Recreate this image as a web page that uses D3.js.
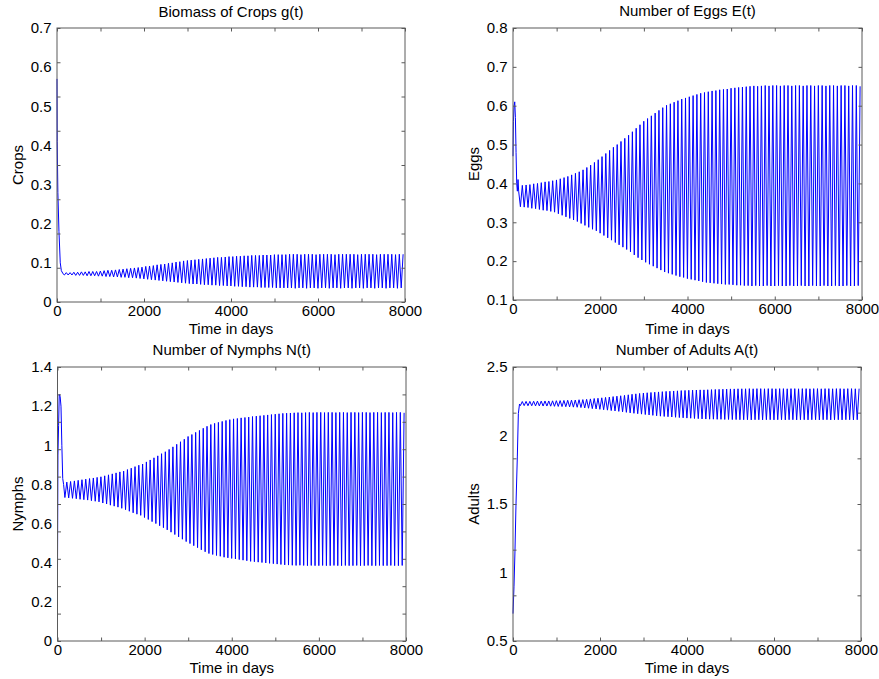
<!DOCTYPE html>
<html>
<head>
<meta charset="utf-8">
<script src="https://cdn.jsdelivr.net/npm/d3@7"></script>
<style>
  body { margin: 0; background: #fff; }
  svg { display: block; font-family: "Liberation Sans", Arial, Helvetica, sans-serif; }
  .tick text { font-size: 15px; fill: #000; }
  .label { font-size: 15px; fill: #000; }
</style>
</head>
<body>
<div id="chart"></div>
<script>
// time axis
const xTickMarks = [0, 1000, 2000, 3000, 4000, 5000, 6000, 7000, 8000];
const xTickLabels = [0, 2000, 4000, 6000, 8000];

// oscillation starts after the transient; one trough + one peak per cycle
const cycleStart = 170;
const cycleDays = 87;

// ---- crops g(t)
const cropTransientDays = [0, 5, 20, 45, 75, 100, 140];
const cropTransient = [0.57, 0.41, 0.28, 0.18, 0.10, 0.08, 0.072];
const cropUpper = [
  .075,.075,.076,.076,.077,.077,.078,.078,.078,.079,
  .080,.081,.081,.082,.083,.084,.085,.086,.087,.088,
  .089,.091,.092,.093,.095,.096,.097,.099,.100,.102,
  .103,.105,.106,.107,.108,.109,.110,.111,.112,.113,
  .114,.114,.115,.116,.116,.117,.117,.118,.118,.119,
  .119,.119,.120,.120,.120,.121,.121,.121,.121,.122,
  .122,.122,.121,.122,.122,.122,.121,.122,.122,.122,
  .122,.121,.122,.122,.122,.122,.122,.121,.122,.122,
  .122,.122,.121,.122,.122,.122,.122,.121,.122,.122];
const cropLower = [
  .069,.069,.069,.068,.068,.068,.067,.067,.067,.066,
  .066,.065,.065,.064,.064,.063,.063,.062,.062,.061,
  .060,.059,.058,.057,.056,.055,.054,.053,.052,.051,
  .050,.049,.048,.047,.046,.046,.045,.044,.044,.043,
  .043,.042,.042,.041,.041,.040,.040,.039,.039,.038,
  .038,.038,.037,.037,.037,.037,.036,.036,.036,.036,
  .036,.035,.036,.036,.035,.036,.036,.035,.036,.036,
  .035,.036,.036,.035,.036,.036,.035,.036,.036,.035,
  .036,.036,.035,.036,.036,.035,.036,.036,.035,.036];
const cropTickLabels = [0, 0.1, 0.2, 0.3, 0.4, 0.5, 0.6, 0.7];
const cropTickMarks = [0, 0.0875, 0.175, 0.2625, 0.35, 0.4375, 0.525, 0.6125, 0.7];

// ---- eggs E(t)
const eggTransientDays = [0, 10, 25, 40, 55, 70, 85, 100, 115, 130];
const eggTransient = [0.47, 0.56, 0.60, 0.61, 0.57, 0.48, 0.40, 0.38, 0.41, 0.38];
const eggUpper = [
  .395,.396,.397,.399,.400,.402,.404,.405,.407,.409,
  .412,.415,.418,.422,.426,.430,.435,.441,.447,.454,
  .461,.469,.477,.485,.493,.500,.508,.516,.524,.533,
  .542,.551,.560,.567,.574,.581,.588,.595,.601,.605,
  .609,.613,.617,.620,.623,.626,.629,.632,.634,.636,
  .638,.639,.641,.642,.643,.645,.646,.647,.648,.649,
  .650,.651,.650,.651,.652,.651,.652,.652,.651,.652,
  .652,.651,.652,.652,.651,.652,.652,.651,.652,.652,
  .651,.652,.652,.651,.652,.652,.651,.652,.652,.650];
const eggLower = [
  .340,.339,.338,.336,.335,.333,.331,.330,.328,.326,
  .322,.318,.314,.310,.306,.302,.297,.292,.287,.282,
  .278,.272,.266,.260,.254,.248,.242,.236,.230,.224,
  .216,.209,.203,.197,.192,.187,.182,.177,.172,.169,
  .166,.163,.160,.158,.155,.153,.151,.149,.147,.145,
  .144,.143,.142,.141,.140,.140,.139,.138,.138,.137,
  .137,.136,.137,.136,.136,.137,.136,.136,.137,.136,
  .136,.137,.136,.136,.137,.136,.136,.137,.136,.136,
  .137,.136,.136,.137,.136,.136,.137,.136,.136,.137];
const eggTickLabels = [0.1, 0.2, 0.3, 0.4, 0.5, 0.6, 0.7, 0.8];
const eggTickMarks = [0.1, 0.2, 0.3, 0.4, 0.5, 0.6, 0.7, 0.8];

// ---- nymphs N(t)
const nymphTransientDays = [0, 10, 25, 40, 60, 80, 100, 120, 140];
const nymphTransient = [0.37, 0.95, 1.10, 1.26, 1.25, 1.20, 1.00, 0.83, 0.80];
const nymphUpper = [
  .812,.815,.818,.821,.824,.827,.830,.833,.836,.839,
  .844,.849,.854,.859,.864,.868,.876,.883,.891,.898,
  .904,.915,.925,.936,.946,.957,.967,.979,.992,1.005,
  1.018,1.031,1.045,1.055,1.066,1.076,1.087,1.097,1.106,1.112,
  1.117,1.122,1.127,1.131,1.135,1.137,1.140,1.142,1.144,1.147,
  1.149,1.151,1.153,1.155,1.157,1.159,1.161,1.163,1.164,1.165,
  1.166,1.167,1.166,1.167,1.168,1.167,1.168,1.168,1.167,1.168,
  1.168,1.167,1.168,1.168,1.167,1.168,1.168,1.167,1.168,1.168,
  1.167,1.168,1.168,1.167,1.168,1.168,1.167,1.168,1.168,1.166];
const nymphLower = [
  .733,.731,.729,.727,.724,.722,.720,.717,.714,.711,
  .705,.700,.694,.689,.684,.678,.671,.663,.655,.648,
  .642,.631,.621,.610,.600,.589,.579,.568,.556,.544,
  .532,.520,.508,.498,.487,.477,.466,.456,.447,.442,
  .437,.433,.428,.425,.422,.419,.416,.413,.410,.407,
  .405,.403,.401,.399,.397,.395,.393,.391,.389,.388,
  .387,.386,.387,.386,.385,.386,.385,.385,.386,.385,
  .385,.386,.385,.385,.386,.385,.385,.386,.385,.385,
  .386,.385,.385,.386,.385,.385,.386,.385,.385,.386];
const nymphTickLabels = [0, 0.2, 0.4, 0.6, 0.8, 1, 1.2, 1.4];
const nymphTickMarks = [0, 0.14, 0.28, 0.42, 0.56, 0.7, 0.84, 0.98, 1.12, 1.26, 1.4];

// ---- adults A(t)
const adultTransientDays = [0, 23, 46, 69, 100, 123, 150];
const adultTransient = [0.70, 0.90, 1.165, 1.50, 1.85, 2.16, 2.23];
const adultUpper = [
  2.248,2.249,2.249,2.250,2.251,2.251,2.252,2.252,2.253,2.254,
  2.255,2.256,2.257,2.258,2.259,2.261,2.262,2.264,2.267,2.270,
  2.272,2.275,2.278,2.281,2.284,2.287,2.290,2.293,2.297,2.301,
  2.304,2.307,2.310,2.312,2.314,2.316,2.318,2.320,2.322,2.323,
  2.325,2.326,2.328,2.329,2.330,2.331,2.332,2.333,2.333,2.334,
  2.335,2.336,2.337,2.338,2.339,2.340,2.340,2.341,2.341,2.341,
  2.342,2.341,2.342,2.342,2.341,2.342,2.342,2.341,2.342,2.342,
  2.341,2.342,2.342,2.341,2.342,2.342,2.341,2.342,2.342,2.341,
  2.342,2.342,2.341,2.342,2.342,2.341,2.342,2.342,2.341,2.342];
const adultLower = [
  2.218,2.218,2.217,2.217,2.216,2.216,2.215,2.215,2.214,2.213,
  2.212,2.211,2.210,2.209,2.207,2.206,2.204,2.201,2.199,2.196,
  2.194,2.191,2.188,2.185,2.182,2.179,2.176,2.173,2.169,2.165,
  2.162,2.159,2.156,2.153,2.150,2.147,2.144,2.141,2.139,2.137,
  2.135,2.133,2.131,2.129,2.127,2.126,2.124,2.123,2.121,2.120,
  2.119,2.119,2.118,2.118,2.117,2.117,2.116,2.116,2.115,2.115,
  2.115,2.114,2.115,2.115,2.114,2.115,2.115,2.114,2.115,2.115,
  2.114,2.115,2.115,2.114,2.115,2.115,2.114,2.115,2.115,2.114,
  2.115,2.115,2.114,2.115,2.115,2.114,2.115,2.115,2.114,2.115];
const adultTickLabels = [0.5, 1, 1.5, 2, 2.5];
const adultTickMarks = [0.5, 0.8333, 1.1667, 1.5, 1.8333, 2.1667, 2.5];

const panels = [
  {title: 'Biomass of Crops g(t)', ylabel: 'Crops', days: cropTransientDays, start: cropTransient,
   upper: cropUpper, lower: cropLower, domain: [0, 0.7], labels: cropTickLabels, marks: cropTickMarks,
   box: {l: 57, r: 405, t: 28, b: 302}, titleY: 16.5, xlabelY: 333.5, ylabelX: 23},
  {title: 'Number of Eggs E(t)', ylabel: 'Eggs', days: eggTransientDays, start: eggTransient,
   upper: eggUpper, lower: eggLower, domain: [0.1, 0.8], labels: eggTickLabels, marks: eggTickMarks,
   box: {l: 513, r: 862, t: 28, b: 300}, titleY: 16, xlabelY: 333.5, ylabelX: 479},
  {title: 'Number of Nymphs N(t)', ylabel: 'Nymphs', days: nymphTransientDays, start: nymphTransient,
   upper: nymphUpper, lower: nymphLower, domain: [0, 1.4], labels: nymphTickLabels, marks: nymphTickMarks,
   box: {l: 57.5, r: 406, t: 367, b: 641}, titleY: 355, xlabelY: 672.5, ylabelX: 23},
  {title: 'Number of Adults A(t)', ylabel: 'Adults', days: adultTransientDays, start: adultTransient,
   upper: adultUpper, lower: adultLower, domain: [0.5, 2.5], labels: adultTickLabels, marks: adultTickMarks,
   box: {l: 513, r: 861, t: 367, b: 641}, titleY: 355, xlabelY: 672.5, ylabelX: 479}
];

const width = 879, height = 679;
const frameColor = '#5a5a5a';
const tickLen = 3.5;

const svg = d3.select('#chart').append('svg')
  .attr('width', width)
  .attr('height', height);

function seriesPoints(p) {
  const pts = p.days.map((d, i) => [d, p.start[i]]);
  p.lower.forEach((v, k) => {
    pts.push([cycleStart + cycleDays * k, v]);
    pts.push([cycleStart + cycleDays * k + cycleDays / 2, p.upper[k]]);
  });
  return pts;
}

panels.forEach(p => {
  const b = p.box;
  const x = d3.scaleLinear().domain([0, 8000]).range([b.l, b.r]);
  const y = d3.scaleLinear().domain(p.domain).range([b.b, b.t]);
  const g = svg.append('g');

  // data line
  const line = d3.line().x(d => x(d[0])).y(d => y(d[1]));
  g.append('path')
    .datum(seriesPoints(p))
    .attr('fill', 'none')
    .attr('stroke', '#0000ff')
    .attr('stroke-width', 1)
    .attr('d', line);

  // inward tick marks on all four sides
  const marks = [
    [d3.axisBottom(x).tickValues(xTickMarks), 'translate(0,' + b.b + ')'],
    [d3.axisTop(x).tickValues(xTickMarks), 'translate(0,' + b.t + ')'],
    [d3.axisLeft(y).tickValues(p.marks), 'translate(' + b.l + ',0)'],
    [d3.axisRight(y).tickValues(p.marks), 'translate(' + b.r + ',0)']
  ];
  marks.forEach(m => {
    const ax = g.append('g')
      .attr('transform', m[1])
      .call(m[0].tickSize(-tickLen).tickFormat(''));
    ax.select('.domain').remove();
    ax.selectAll('line').attr('stroke', frameColor);
  });

  // tick labels
  const xl = g.append('g')
    .attr('transform', 'translate(0,' + b.b + ')')
    .call(d3.axisBottom(x).tickValues(xTickLabels).tickSize(0).tickPadding(3.5).tickFormat(d3.format('d')));
  xl.select('.domain').remove();
  const yl = g.append('g')
    .attr('transform', 'translate(' + b.l + ',0)')
    .call(d3.axisLeft(y).tickValues(p.labels).tickSize(0).tickPadding(5.5).tickFormat(d => String(d)));
  yl.select('.domain').remove();
  g.selectAll('.tick text').attr('font-family', null).attr('font-size', null);

  // frame
  g.append('rect')
    .attr('x', b.l).attr('y', b.t)
    .attr('width', b.r - b.l).attr('height', b.b - b.t)
    .attr('fill', 'none')
    .attr('stroke', frameColor)
    .attr('stroke-width', 1);

  // texts
  g.append('text').attr('class', 'label')
    .attr('x', (b.l + b.r) / 2).attr('y', p.titleY)
    .attr('text-anchor', 'middle')
    .text(p.title);
  g.append('text').attr('class', 'label')
    .attr('x', (b.l + b.r) / 2).attr('y', p.xlabelY)
    .attr('text-anchor', 'middle')
    .text('Time in days');
  g.append('text').attr('class', 'label')
    .attr('transform', 'translate(' + p.ylabelX + ',' + ((b.t + b.b) / 2) + ') rotate(-90)')
    .attr('text-anchor', 'middle')
    .text(p.ylabel);
});
</script>
</body>
</html>
